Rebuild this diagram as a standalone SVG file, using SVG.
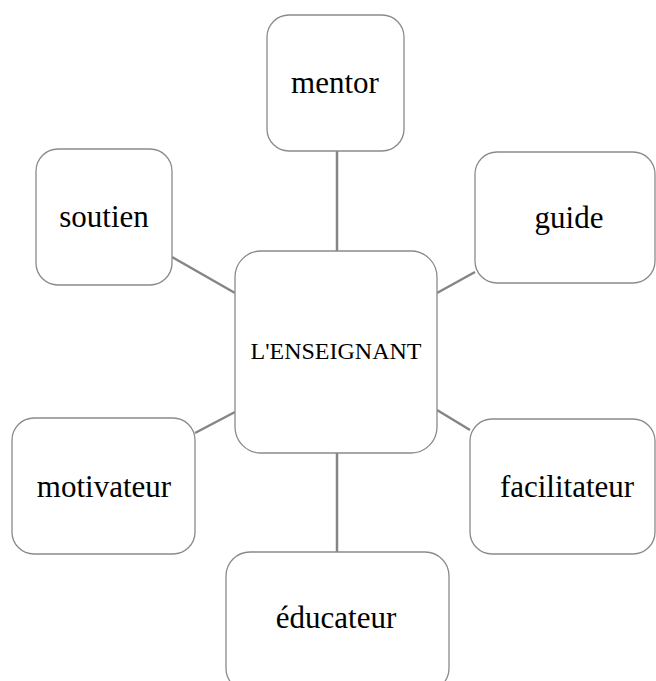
<svg xmlns="http://www.w3.org/2000/svg" width="656" height="681" viewBox="0 0 656 681">
<style>
.box{fill:#fff;stroke:#8a8a8a;stroke-width:1.3}
.lbl{font-family:"Liberation Serif","Times New Roman",serif;font-size:31px;fill:#000;text-anchor:middle}
.ctr{font-size:24px}
.con{stroke:#858585;stroke-width:2.5;fill:none}
</style>
<rect width="656" height="681" fill="#fff"/>
<g id="connectors">
<line class="con" x1="337" y1="151" x2="337" y2="251"/>
<line class="con" x1="337" y1="453" x2="337" y2="552"/>
<line class="con" x1="172" y1="257" x2="235" y2="293"/>
<line class="con" x1="437" y1="293" x2="475" y2="272"/>
<line class="con" x1="437" y1="410" x2="470" y2="430"/>
<line class="con" x1="195" y1="433" x2="235" y2="412"/>
</g>
<g id="center">
<rect class="box" x="235" y="251" width="202" height="202" rx="26"/>
<text class="lbl ctr" x="336" y="359">L'ENSEIGNANT</text>
</g>
<g id="mentor">
<rect class="box" x="267" y="15" width="137" height="136" rx="22"/>
<text class="lbl" x="335" y="93">mentor</text>
</g>
<g id="soutien">
<rect class="box" x="36" y="149" width="136" height="136" rx="22"/>
<text class="lbl" x="104" y="227">soutien</text>
</g>
<g id="guide">
<rect class="box" x="475" y="152" width="180" height="131" rx="22"/>
<text class="lbl" x="569" y="228">guide</text>
</g>
<g id="motivateur">
<rect class="box" x="12" y="418" width="183" height="136" rx="22"/>
<text class="lbl" x="104" y="497">motivateur</text>
</g>
<g id="facilitateur">
<rect class="box" x="470" y="419" width="185" height="135" rx="22"/>
<text class="lbl" x="567" y="497">facilitateur</text>
</g>
<g id="educateur">
<rect class="box" x="226" y="552" width="223" height="140" rx="24"/>
<text class="lbl" x="336" y="628">éducateur</text>
</g>
</svg>
